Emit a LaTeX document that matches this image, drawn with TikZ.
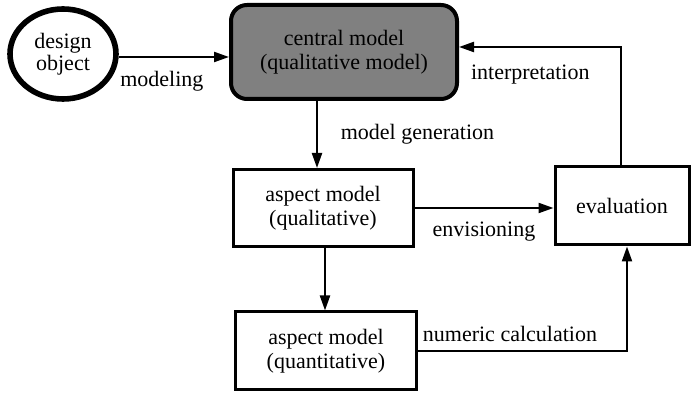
\documentclass[tikz,border=0pt]{standalone}
\usepackage{fontspec}
\setmainfont{Liberation Serif}
\usetikzlibrary{arrows.meta,shapes.geometric}

\begin{document}
\begin{tikzpicture}[x=0.5pt,y=-0.5pt,
  font=\fontsize{11}{12}\selectfont,
  box/.style={draw, line width=1.5pt, align=center, inner sep=0pt},
  arr/.style={line width=1.1pt, -{Triangle[length=7.5pt,width=5pt]}},
  lbl/.style={}]

\useasboundingbox (0,0) rectangle (691,394);

% Objeto de projeto
\node[ellipse, draw, line width=2.8pt, minimum width=53pt, minimum height=45pt, align=center] (design) at (63,54) {design\\[-1pt]object};

% Modelo central
\node[box, rounded corners=8pt, line width=2pt, fill=black!50, minimum width=113pt, minimum height=47pt] (central) at (344,52) {central model\\(qualitative model)};

% Modelos de aspecto
\node[box, minimum width=90pt, minimum height=38.5pt] (qual) at (323,208) {aspect model\\(qualitative)};
\node[box, minimum width=90.5pt, minimum height=39pt] (quant) at (326,351) {aspect model\\(quantitative)};

% Avaliacao
\node[box, minimum width=67pt, minimum height=39pt] (eval) at (622,206) {evaluation};

% Modelagem
\draw[arr] (design.east |- 0,57) -- (central.west |- 0,57) node[lbl, midway, below=3pt, xshift=-6pt] {modeling};

% Geracao do modelo
\draw[arr] (central.south -| 317,0) -- (qual.north -| 317,0) node[lbl, midway, right=8pt] {model generation};

% Visualizacao
\draw[arr] (qual.east) -- (qual.east -| eval.west) node[lbl, midway, below=3pt] {envisioning};

% Qualitativo para quantitativo
\draw[arr] (qual.south -| 325,0) -- (quant.north -| 325,0);

% Calculo numerico
\draw[arr] (quant.east) -| (eval.south -| 627,0) node[lbl, pos=0.22, above=1pt] {numeric calculation};

% Interpretacao
\draw[arr] (eval.north -| 621,0) |- (central.east |- 0,47) node[lbl, pos=0.78, below=5pt] {interpretation};

\end{tikzpicture}
\end{document}
